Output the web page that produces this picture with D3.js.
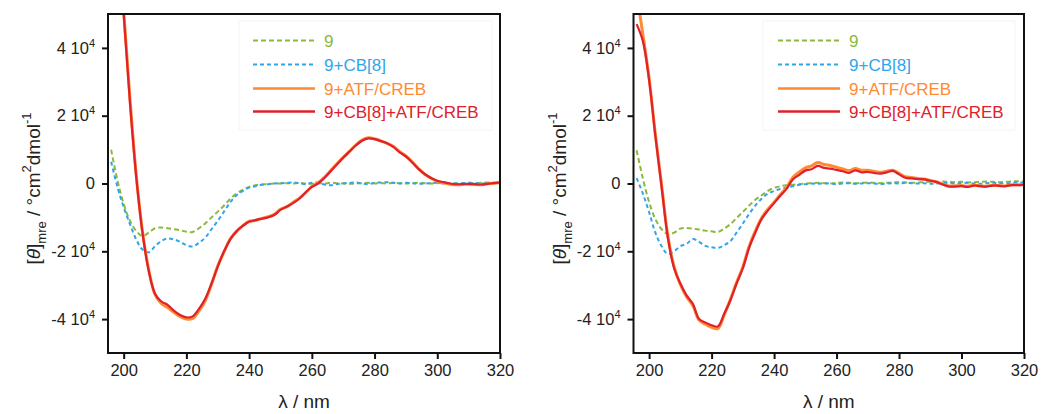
<!DOCTYPE html>
<html><head><meta charset="utf-8">
<script src="https://cdn.jsdelivr.net/npm/d3@7"></script>
<style>
body{margin:0;background:#fff;}
text{font-family:"Liberation Sans",Arial,Helvetica,sans-serif;}
</style></head>
<body><svg id="chart" width="1041" height="414"></svg>
<script>
// Wavelength grid (nm), 196..320 step 2
const wavelengths = d3.range(196, 321, 2);
const seriesNames = ["9", "9+CB[8]", "9+ATF/CREB", "9+CB[8]+ATF/CREB"];
const xTicks = [200, 220, 240, 260, 280, 300, 320];
const yTicks = [-40000, -20000, 0, 20000, 40000];
const yTickMantissa = ["-4", "-2", "0", "2", "4"];

// Values in units of 10^3 deg cm^2 dmol^-1
// ---- Left panel ----
const left9 = [10,1,-6,-11,-14,-15.5,-14.5,-13.2,-13,-13.2,-13.5,-13.8,-14.2,-14.3,-13.2,-11.8,-10,-8.3,-6.5,-4.5,-3,-1.8,-1,-0.5,-0.3,-0.2,0,0,
  0.1,0,0.2,0,-0.1,0.1,0,0.2,0.1,0,-0.1,0,0.1,0.2,0,0.1,0,0.2,0.1,0,0.1,0.2,0.1,0,0.1,0.2,0.1,0,0.1,0.2,0.1,0.2,0.3,0.2,0.3];
const left9CB = [6.4,-1,-7,-12,-16.5,-19.5,-20.3,-18.5,-17,-16.2,-16.5,-17.2,-18.2,-18.6,-17.5,-16,-13.5,-11,-8.3,-5.5,-3.5,-2.2,-1.2,-0.8,-0.4,-0.2,0,0.1,
  0.2,0.3,0.1,-0.2,0.2,0.3,-0.3,-0.5,-0.2,0.1,0.2,0.3,0,-0.2,0.2,0.3,0.4,0.2,0,0.2,0.1,-0.1,0,0.1,0.2,0,-0.1,0,0.1,0.2,0.1,0,0.1,0.2,0.3];
const left9ATF = [106,79,51,25,2.5,-14.2,-25.5,-32.8,-35.4,-36.6,-38,-39.3,-40,-39.8,-37.6,-34.6,-29.8,-24.3,-20.2,-16.3,-14.2,-12.4,-11.1,-10.9,-10.3,-9.8,-9.1,-7.6,
  -6.9,-5.6,-4.3,-2.8,-0.9,0.2,1.8,3.8,5.8,7.7,9.5,11.3,12.8,13.5,13.2,12.6,11.8,10.9,9.4,8.1,6.4,4.4,2.7,1.6,0.6,0.2,-0.2,-0.4,-0.3,-0.2,-0.3,-0.4,-0.1,0.1,0.2];
const left9CBATF = [105,78,50,24,2,-14.5,-25.8,-32.5,-34.8,-35.8,-37.5,-38.8,-39.5,-39.2,-37,-34,-29.5,-24.5,-20,-16.5,-14,-12.5,-11.3,-10.8,-10.4,-10,-9.3,-7.8,
  -6.8,-5.8,-4.5,-2.6,-1,0,1.6,3.6,5.6,7.6,9.4,11.2,12.6,13.3,13.1,12.5,11.9,10.8,9.2,8,6.2,4.3,2.8,1.6,0.8,0.4,0,-0.2,-0.2,-0.1,-0.2,-0.3,-0.1,0.1,0.3];
// ---- Right panel ----
const right9 = [9.8,1.5,-5.5,-10.5,-13.5,-15,-14.5,-13.3,-13.1,-13.3,-13.6,-13.9,-14.1,-14.3,-13.3,-12,-10.2,-8.4,-6.5,-4.8,-3.5,-2.2,-1.3,-0.8,-0.5,-0.4,-0.2,0,
  0.1,0.2,0.1,0,0.2,0.3,0.2,0.1,0.2,0.3,0.2,0.1,0.2,0.3,0.4,0.3,0.2,0.3,0.4,0.5,0.4,0.6,0.5,0.4,0.5,0.3,0.4,0.5,0.6,0.5,0.4,0.5,0.6,0.7,0.6];
const right9CB = [1.6,-3,-8.5,-14.5,-18.5,-20.8,-20,-18.5,-17.8,-16.4,-17.2,-18.4,-18.8,-19,-18.2,-17,-14.5,-11.8,-9,-6.5,-4.5,-3,-2.2,-1.6,-1.2,-0.8,-0.4,-0.2,
  0,-0.1,0.1,0,-0.2,0,0.1,-0.1,0,0.1,0,-0.2,0,0.1,0,0.2,0.1,0,0.1,-0.1,0,0.1,0.2,0,0.1,0.2,0,-0.1,0.1,0.2,0.1,0,0.2,0.3,0.2];
const right9ATF = [56,44,31,14.5,-0.5,-15.5,-24.5,-29.8,-33.5,-36,-40.3,-41.5,-42.4,-42.8,-38.8,-34.2,-29.2,-24.6,-18.6,-14,-10.2,-7.6,-5.5,-3.3,-1.2,1.8,3.3,4.6,
  5.2,6.2,5.6,5.3,4.8,4.3,3.8,4.4,3.9,3.9,3.6,3.3,3.6,3.9,3,2,1.8,1.5,1.3,0.9,0.5,-0.2,-0.7,-0.7,-0.6,-0.8,-0.5,-0.7,-0.8,-0.5,-0.6,-0.7,-0.4,-0.4,-0.3];
const right9CBATF = [47,42,30.5,14,-1,-16,-25,-29.5,-33,-35.5,-40,-41,-41.8,-42.2,-38.5,-34.5,-29.5,-25,-19,-14.5,-10.5,-8,-5.8,-3.6,-1.6,1.2,2.5,3.8,
  4.2,5.2,4.6,4.4,4,3.6,3.1,3.9,3.3,3.4,3.1,2.9,3.3,3.7,2.7,1.7,1.5,1.3,1.2,0.8,0.4,-0.3,-0.9,-0.9,-0.8,-1,-0.6,-0.8,-0.9,-0.6,-0.7,-0.8,-0.5,-0.5,-0.4];

const colors = ["#8db83d", "#2fa6ea", "#ff8a33", "#e0202a"];
const dashes = ["5,3", "4,3", null, null];
const widths = [2, 2, 3, 2.2];

const svg = d3.select("#chart");

const panels = [
  {x0: 108, x1: 500, series: [left9, left9CB, left9ATF, left9CBATF], legX: 253, box: [239, 21, 492, 130]},
  {x0: 633.5, x1: 1024, series: [right9, right9CB, right9ATF, right9CBATF], legX: 778, box: [763, 21, 1015, 130]}
];
const yTop = 14, yBot = 353;

panels.forEach((p, pi) => {
  const x = d3.scaleLinear().domain([195, 320]).range([p.x0, p.x1]);
  const y = d3.scaleLinear().domain([-50000, 50000]).range([yBot, yTop]);
  const g = svg.append("g");
  const clipId = "clip" + pi;
  g.append("clipPath").attr("id", clipId).append("rect")
    .attr("x", p.x0).attr("y", yTop).attr("width", p.x1 - p.x0).attr("height", yBot - yTop);

  // legend box (very faint)
  g.append("rect").attr("x", p.box[0]).attr("y", p.box[1])
    .attr("width", p.box[2] - p.box[0]).attr("height", p.box[3] - p.box[1])
    .attr("fill", "#fff").attr("stroke", "#f4f4f4").attr("stroke-width", 1);

  // lines
  const line = d3.line().x((d, i) => x(wavelengths[i])).y(d => y(d * 1000)).curve(d3.curveCatmullRom.alpha(0.5));
  const lg = g.append("g").attr("clip-path", `url(#${clipId})`);
  [0, 1, 2, 3].forEach(k => {
    lg.append("path").datum(p.series[k]).attr("d", line)
      .attr("fill", "none").attr("stroke", colors[k]).attr("stroke-width", widths[k])
      .attr("stroke-dasharray", dashes[k]).attr("stroke-linejoin", "round");
  });

  // frame
  g.append("rect").attr("x", p.x0).attr("y", yTop).attr("width", p.x1 - p.x0).attr("height", yBot - yTop)
    .attr("fill", "none").attr("stroke", "#111").attr("stroke-width", 2);

  // x axis
  const xa = g.append("g").attr("transform", `translate(0,${yBot})`)
    .call(d3.axisBottom(x).tickValues(xTicks).tickSize(6).tickPadding(5).tickFormat(d3.format("d")));
  xa.select(".domain").remove();
  xa.selectAll(".tick line").attr("stroke", "#111").attr("stroke-width", 2);
  xa.selectAll(".tick text").attr("font-size", 16.5).attr("fill", "#222")
    .attr("font-family", "Liberation Sans, Arial, sans-serif");

  // y axis
  const ya = g.append("g").attr("transform", `translate(${p.x0},0)`)
    .call(d3.axisLeft(y).tickValues(yTicks).tickSize(6).tickPadding(7).tickFormat(() => ""));
  ya.select(".domain").remove();
  ya.selectAll(".tick line").attr("stroke", "#111").attr("stroke-width", 2);
  ya.selectAll(".tick text").each(function(d) {
    const t = d3.select(this).attr("font-size", 16.5).attr("fill", "#222")
      .attr("font-family", "Liberation Sans, Arial, sans-serif");
    const idx = yTicks.indexOf(d);
    if (d === 0) { t.text("0"); }
    else {
      t.append("tspan").text(yTickMantissa[idx] + " 10");
      t.append("tspan").attr("font-size", 11).attr("dy", -7).text("4");
    }
  });

  // y label
  const ylab = g.append("text")
    .attr("transform", `translate(${p.x0 - 68},${(yTop + yBot) / 2 + 5}) rotate(-90)`)
    .attr("text-anchor", "middle").attr("font-size", 19).attr("fill", "#222");
  ylab.append("tspan").text("[");
  ylab.append("tspan").attr("font-style", "italic").text("θ");
  ylab.append("tspan").text("]");
  ylab.append("tspan").attr("font-size", 13).attr("dy", 6).text("mre");
  ylab.append("tspan").attr("dy", -6).text(" / °cm");
  ylab.append("tspan").attr("font-size", 13).attr("dy", -9).text("2");
  ylab.append("tspan").attr("dy", 9).text("dmol");
  ylab.append("tspan").attr("font-size", 13).attr("dy", -9).text("-1");

  // x label
  g.append("text").attr("x", (p.x0 + p.x1) / 2).attr("y", 408).attr("text-anchor", "middle")
    .attr("font-size", 19).attr("fill", "#222").text("λ / nm");

  // legend
  const rows = [40.5, 64.5, 88.5, 111.5];
  seriesNames.forEach((name, k) => {
    g.append("line").attr("x1", p.legX).attr("x2", p.legX + 62).attr("y1", rows[k]).attr("y2", rows[k])
      .attr("stroke", colors[k]).attr("stroke-width", k < 2 ? 2 : 2.5).attr("stroke-dasharray", dashes[k]);
    g.append("text").attr("x", p.legX + 71).attr("y", rows[k] + 6).attr("font-size", 17)
      .attr("fill", colors[k]).text(name);
  });
});
</script></body></html>
